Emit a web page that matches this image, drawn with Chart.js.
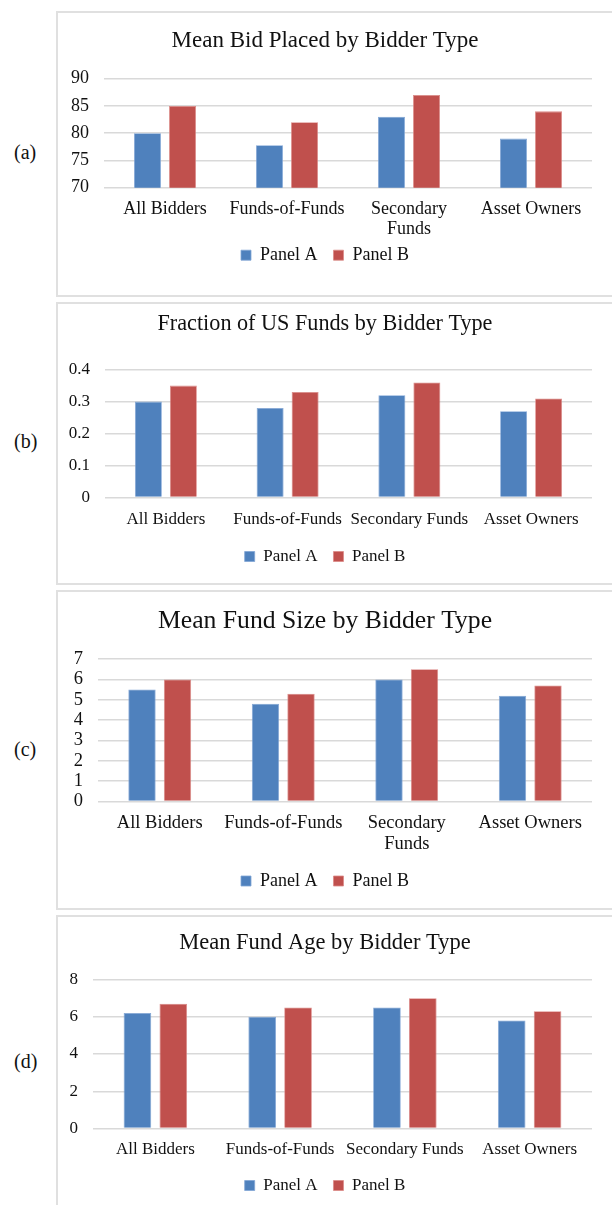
<!DOCTYPE html>
<html>
<head>
<meta charset="utf-8">
<script src="https://cdn.jsdelivr.net/npm/chart.js@4.4.0/dist/chart.umd.min.js"></script>
<style>
  html, body { margin: 0; padding: 0; background: #fff; }
  body { width: 612px; height: 1205px; position: relative; overflow: hidden; font-family: "Liberation Serif", serif; }
  .box { position: absolute; left: 56px; width: 570px; border: 2px solid #e0e0e0; box-sizing: border-box; }
  .box canvas { position: absolute; left: 0; top: 0; }
  .tag { position: absolute; left: 14px; font-size: 20px; color: #111; }
</style>
</head>
<body>
<div class="tag" style="top:141px">(a)</div>
<div class="tag" style="top:430px">(b)</div>
<div class="tag" style="top:738px">(c)</div>
<div class="tag" style="top:1050px">(d)</div>

<div class="box" style="top:11px;height:286px"><canvas id="chartA"></canvas></div>
<div class="box" style="top:302px;height:283px"><canvas id="chartB"></canvas></div>
<div class="box" style="top:590px;height:320px"><canvas id="chartC"></canvas></div>
<div class="box" style="top:915px;height:310px"><canvas id="chartD"></canvas></div>

<script>
const categories = ['All Bidders', 'Funds-of-Funds', 'Secondary Funds', 'Asset Owners'];
const categoriesWrapped = ['All Bidders', 'Funds-of-Funds', ['Secondary', 'Funds'], 'Asset Owners'];
const seriesNames = ['Panel A', 'Panel B'];

const bidPanelA = [80, 77.8, 83, 79];
const bidPanelB = [85, 82, 87, 84];

const usPanelA = [0.30, 0.28, 0.32, 0.27];
const usPanelB = [0.35, 0.33, 0.36, 0.31];

const sizePanelA = [5.5, 4.8, 6.0, 5.2];
const sizePanelB = [6.0, 5.3, 6.5, 5.7];

const agePanelA = [6.2, 6.0, 6.5, 5.8];
const agePanelB = [6.7, 6.5, 7.0, 6.3];

const blue = '#4F81BD';
const red = '#C0504D';
const font = "'Liberation Serif', 'Times New Roman', serif";

function makeChart(id, h, cfg) {
    const w = 566;
    const canvas = document.getElementById(id);
    canvas.width = w;
    canvas.height = h;
    canvas.style.width = w + 'px';
    canvas.style.height = h + 'px';
    return new Chart(canvas.getContext('2d'), {
        type: 'bar',
        data: {
            labels: cfg.labels,
            datasets: [
                { label: seriesNames[0], data: cfg.a, backgroundColor: blue, borderColor: '#82a6d6', borderWidth: 0.8 },
                { label: seriesNames[1], data: cfg.b, backgroundColor: red, borderColor: '#dc8a88', borderWidth: 0.8 }
            ]
        },
        options: {
            responsive: false,
            animation: false,
            categoryPercentage: 0.575,
            barPercentage: 0.77,
            layout: { padding: { left: 0, right: 32, top: 0, bottom: cfg.padBottom } },
            plugins: {
                title: {
                    display: true,
                    text: cfg.title,
                    color: '#111',
                    font: { family: font, size: cfg.titleSize, weight: 'normal' },
                    padding: { top: cfg.titleTop, bottom: cfg.titleBottom }
                },
                legend: {
                    position: 'bottom',
                    labels: {
                        color: '#111',
                        font: { family: font, size: cfg.legendSize },
                        boxWidth: 10,
                        boxHeight: 10,
                        padding: cfg.legendPad,
                        // a tight legend padding still needs some room between the two entries
                        generateLabels: function (chart) {
                            const items = Chart.defaults.plugins.legend.labels.generateLabels(chart);
                            items.forEach(function (item, i) {
                                if (i < items.length - 1) item.text += cfg.legendGap;
                            });
                            return items;
                        }
                    }
                },
                tooltip: { enabled: false }
            },
            scales: {
                x: {
                    grid: { display: false, drawTicks: false },
                    border: { display: false },
                    ticks: {
                        color: '#111',
                        font: { family: font, size: cfg.tickSize, lineHeight: 1.1 },
                        maxRotation: 0,
                        minRotation: 0,
                        autoSkip: false,
                        padding: cfg.xPad
                    },
                    // chart.js counts tick padding twice, so pin the axis height
                    afterFit: function (scale) { scale.height = cfg.xHeight; }
                },
                y: {
                    min: cfg.min,
                    max: cfg.max,
                    grid: { color: '#d9d9d9', lineWidth: 1.5, drawTicks: false },
                    border: { display: false },
                    ticks: {
                        stepSize: cfg.step,
                        autoSkip: false,
                        color: '#111',
                        font: { family: font, size: cfg.tickSize },
                        padding: 15
                    },
                    afterFit: function (scale) { scale.width = cfg.yWidth; }
                }
            }
        }
    });
}

makeChart('chartA', 280, {
    labels: categoriesWrapped, a: bidPanelA, b: bidPanelB,
    title: 'Mean Bid Placed by Bidder Type', titleSize: 23, titleTop: 14, titleBottom: 24,
    tickSize: 18, legendSize: 18, legendPad: 7, legendGap: '\u2002',
    min: 70, max: 90, step: 5, yWidth: 46, xPad: 11.4, xHeight: 51.5, padBottom: 18.8
});

makeChart('chartB', 277, {
    labels: categories, a: usPanelA, b: usPanelB,
    title: 'Fraction of US Funds by Bidder Type', titleSize: 22.2, titleTop: 6.5, titleBottom: 32.5,
    tickSize: 17, legendSize: 17, legendPad: 16, legendGap: '',
    min: 0, max: 0.4, step: 0.1, yWidth: 47, xPad: 12.6, xHeight: 34.5, padBottom: 6
});

makeChart('chartC', 314, {
    labels: categoriesWrapped, a: sizePanelA, b: sizePanelB,
    title: 'Mean Fund Size by Bidder Type', titleSize: 25.7, titleTop: 13.6, titleBottom: 22.6,
    tickSize: 18.5, legendSize: 18, legendPad: 16, legendGap: '',
    min: 0, max: 7, step: 1, yWidth: 40, xPad: 11.8, xHeight: 54.5, padBottom: 6
});

makeChart('chartD', 288, {
    labels: categories, a: agePanelA, b: agePanelB,
    title: 'Mean Fund Age by Bidder Type', titleSize: 22.5, titleTop: 12.5, titleBottom: 23,
    tickSize: 17, legendSize: 17, legendPad: 16, legendGap: '',
    min: 0, max: 8, step: 2, yWidth: 35, xPad: 11.6, xHeight: 32.5, padBottom: 1
});
</script>
</body>
</html>
